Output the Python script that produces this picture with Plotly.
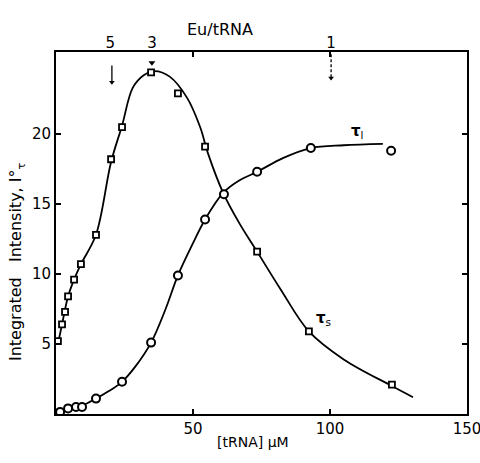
import plotly.graph_objects as go

# Data
# tau_s (squares)
ts_x = [0.7, 2.2, 3.3, 4.4, 6.6, 9.1, 14.6, 20.1, 24.1, 34.7, 44.5, 54.4, 73.4, 92.3, 122.6]
ts_y = [5.2, 6.4, 7.3, 8.4, 9.6, 10.7, 12.8, 18.2, 20.5, 24.4, 22.9, 19.1, 11.6, 5.9, 2.1]
# tau_l (circles)
tl_x = [1.5, 4.4, 7.3, 9.5, 14.6, 24.1, 34.7, 44.5, 54.4, 61.3, 73.4, 93.0, 122.3]
tl_y = [0.15, 0.4, 0.5, 0.5, 1.1, 2.3, 5.1, 9.9, 13.9, 15.7, 17.3, 19.0, 18.8]

# hand-drawn fitted curves
ts_curve_x = [0.7, 2.2, 4.4, 6.6, 9.1, 14.6, 20.1, 24.1, 28, 32, 36, 41.5, 47.8, 52.6, 55.5, 61, 67, 73.4, 82, 92.3, 105, 122.6, 130.3]
ts_curve_y = [5.0, 6.4, 8.4, 9.6, 10.7, 12.8, 18.0, 20.6, 23.3, 24.2, 24.5, 24.1, 22.6, 20.5, 18.6, 15.8, 13.6, 11.6, 8.9, 5.9, 3.9, 2.0, 1.2]
tl_curve_x = [0, 4.4, 9.5, 14.6, 19, 24.1, 29, 34.7, 40, 44.5, 50, 54.4, 61, 67, 73.4, 83, 93, 105, 119.3]
tl_curve_y = [0, 0.35, 0.6, 1.1, 1.6, 2.3, 3.4, 5.1, 7.5, 9.9, 12.2, 13.9, 15.8, 16.7, 17.3, 18.3, 19.0, 19.2, 19.3]

# top axis: Eu/tRNA ratios
ratio_text = ["5", "3", "1"]
ratio_x = [19.8, 35.0, 100.4]
# arrows marking ratio 5 and 1 (x, top y, tip y)
arrow_x = [20.4, 100.4]
arrow_top = [24.9, 25.7]
arrow_tip = [23.7, 24.0]

x_ticks = [50, 100, 150]
y_ticks = [5, 10, 15, 20]

FONT = "DejaVu Sans"
fig = go.Figure()

fig.add_trace(go.Scatter(x=ts_curve_x, y=ts_curve_y, mode="lines",
                         line=dict(color="black", width=1.8, shape="spline", smoothing=1.0),
                         hoverinfo="skip", showlegend=False))
fig.add_trace(go.Scatter(x=tl_curve_x, y=tl_curve_y, mode="lines",
                         line=dict(color="black", width=1.8, shape="spline", smoothing=1.0),
                         hoverinfo="skip", showlegend=False))
fig.add_trace(go.Scatter(x=ts_x, y=ts_y, mode="markers",
                         marker=dict(symbol="square", size=6, color="white",
                                     line=dict(color="black", width=1.8)),
                         showlegend=False))
fig.add_trace(go.Scatter(x=tl_x, y=tl_y, mode="markers",
                         marker=dict(symbol="circle", size=8, color="white",
                                     line=dict(color="black", width=2)),
                         showlegend=False))
# small marker above peak
fig.add_trace(go.Scatter(x=[ratio_x[1]], y=[25.1], mode="markers",
                         marker=dict(symbol="triangle-down", size=6, color="black"),
                         showlegend=False, hoverinfo="skip"))
# arrows
fig.add_trace(go.Scatter(x=[arrow_x[0], arrow_x[0]], y=[arrow_top[0], arrow_tip[0]],
                         mode="lines", line=dict(color="black", width=1.3),
                         showlegend=False, hoverinfo="skip"))
fig.add_trace(go.Scatter(x=[arrow_x[1], arrow_x[1]], y=[arrow_top[1], arrow_tip[1]],
                         mode="lines", line=dict(color="black", width=1.3, dash="3px,2px"),
                         showlegend=False, hoverinfo="skip", cliponaxis=False))
fig.add_trace(go.Scatter(x=arrow_x, y=arrow_tip, mode="markers",
                         marker=dict(symbol="triangle-down", size=5, color="black"),
                         showlegend=False, hoverinfo="skip"))
# invisible trace on top axis
fig.add_trace(go.Scatter(x=ratio_x, y=[None]*3, xaxis="x2", mode="markers",
                         showlegend=False, hoverinfo="skip"))

# curve labels
fig.add_annotation(x=110, y=20.2, text="<b>τ</b><sub>l</sub>", showarrow=False,
                   font=dict(family=FONT, size=15, color="black"))
fig.add_annotation(x=97.5, y=6.8, text="<b>τ</b><sub>s</sub>", showarrow=False,
                   font=dict(family=FONT, size=15, color="black"))

# titles
fig.add_annotation(x=-0.125, y=0.42, xref="paper", yref="paper", textangle=-90,
                   text="Integrated   Intensity, I°<sub>τ</sub>", showarrow=False,
                   font=dict(family=FONT, size=16, color="black"))
fig.add_annotation(x=0.479, y=-0.105, xref="paper", yref="paper",
                   text="[tRNA] µM", showarrow=False,
                   font=dict(family=FONT, size=14, color="black"))
fig.add_annotation(x=0.399, y=1.094, xref="paper", yref="paper",
                   text="Eu/tRNA", showarrow=False,
                   font=dict(family=FONT, size=16, color="black"))

fig.update_layout(
    width=480, height=463,
    margin=dict(l=56, r=13, t=52, b=49, autoexpand=False),
    paper_bgcolor="white", plot_bgcolor="white",
    font=dict(family=FONT, size=15, color="black"),
    xaxis=dict(range=[0, 150], tickvals=x_ticks, ticks="inside", ticklen=5,
               tickwidth=1.5, tickcolor="black", showline=True, linecolor="black",
               linewidth=2, mirror="ticks", showgrid=False, zeroline=False,
               automargin=False, ticklabeloverflow="allow"),
    xaxis2=dict(range=[0, 150], overlaying="x", side="top", tickvals=ratio_x,
                ticktext=ratio_text, ticks="", showgrid=False, zeroline=False,
                showline=False, automargin=False, ticklabeloverflow="allow"),
    yaxis=dict(range=[0, 25.86], tickvals=y_ticks, ticks="inside", ticklen=5,
               tickwidth=1.5, tickcolor="black", showline=True, linecolor="black",
               linewidth=2, mirror="ticks", showgrid=False, zeroline=False,
               automargin=False, ticklabeloverflow="allow"),
)

fig.write_html("out.html", config={"displayModeBar": False},
               post_script="document.body.style.margin='0';")
